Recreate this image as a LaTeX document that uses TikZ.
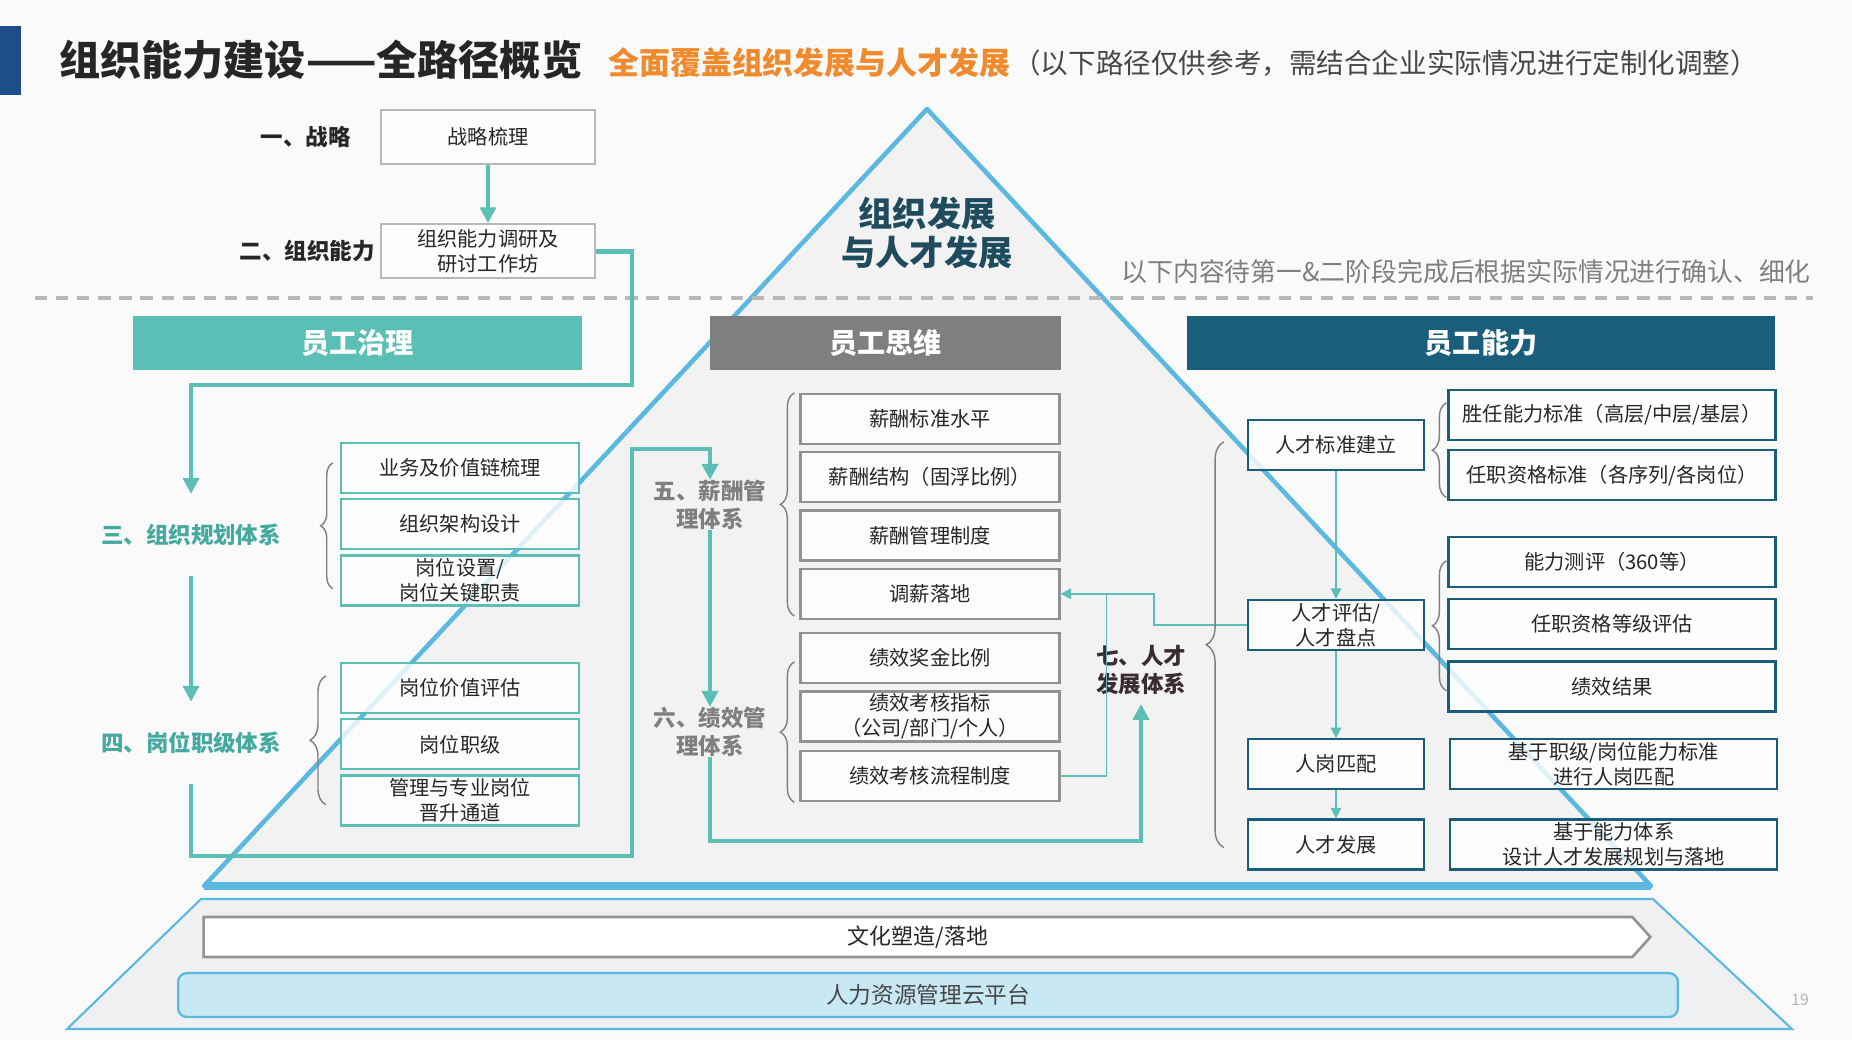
\documentclass[tikz,border=0pt]{standalone}
\usepackage{fontspec}
\setmainfont{Noto Sans CJK SC}
\usepackage{tikz}
\usetikzlibrary{arrows.meta, positioning, calc, decorations.pathreplacing, shapes.symbols}
\definecolor{orgteal}{HTML}{5BBFB5}
\definecolor{orgtealtext}{HTML}{45A99F}
\definecolor{orgnavy}{HTML}{1B5E7B}
\definecolor{orggray}{HTML}{7F7F7F}
\definecolor{orgsky}{HTML}{5BB8E0}
\definecolor{orgorange}{HTML}{F08A2C}
\definecolor{orgdark}{HTML}{262626}
\definecolor{orgdeep}{HTML}{1E4B5E}
\definecolor{orgbrown}{HTML}{3A2C30}
\definecolor{orgbg}{HTML}{FAFAFA}
\definecolor{orgtri}{HTML}{F2F2F2}
\definecolor{orgbase}{HTML}{EEF0F2}
\definecolor{orgcloud}{HTML}{C8E8F4}
\definecolor{orgbar}{HTML}{1D4E89}
\tikzset{
  hdr/.style={rectangle, minimum height=1.08cm, inner sep=0pt, font=\bfseries\fontsize{16}{18}\selectfont, text=white},
  govbox/.style={rectangle, draw=orgteal, line width=1.3pt, fill=white, fill opacity=0.8, text opacity=1,
    minimum width=4.76cm, minimum height=1cm, inner sep=1pt, font=\fontsize{11.5}{14}\selectfont, align=center, text=orgdark},
  mindbox/.style={govbox, draw=orggray!85, minimum width=5.18cm},
  talbox/.style={govbox, draw=orgnavy, minimum width=3.52cm},
  detbox/.style={govbox, draw=orgnavy, minimum width=6.54cm},
  topbox/.style={govbox, draw=gray!55, minimum width=4.28cm, minimum height=1.08cm},
  stage/.style={font=\bfseries\fontsize{12.8}{16}\selectfont, inner sep=0pt, align=center},
  flow/.style={-{Triangle[length=9pt, width=9pt]}, line width=2.6pt, draw=orgteal},
  thinflow/.style={-{Triangle[length=6pt, width=6pt]}, line width=0.9pt, draw=orgteal},
  thinline/.style={line width=0.9pt, draw=orgteal},
  brk/.style={decorate, decoration={brace, amplitude=#1}, draw=orggray, line width=0.8pt},
  brk/.default=7pt,
}
\begin{document}
\begin{tikzpicture}[x=0.02cm, y=-0.02cm]
    \fill[orgbg] (0,0) rectangle (1852,1039);
    \useasboundingbox (0,0) rectangle (1852,1039);
    \fill[orgbar] (0,26) rectangle (21,95);
    \node[anchor=west, inner sep=0pt, font=\bfseries\fontsize{23.4}{26}\selectfont, text=orgdark] (title) at (59,60) {组织能力建设——全路径概览};
    \node[anchor=west, inner sep=0pt, font=\bfseries\fontsize{17.6}{20}\selectfont, text=orgorange] (subtitle) at (608,63) {全面覆盖组织发展与人才发展};
    \node[anchor=west, inner sep=0pt, font=\fontsize{15.7}{18}\selectfont, text=orgdark!85] (note) at (1013,63) {（以下路径仅供参考，需结合企业实际情况进行定制化调整）};

    \filldraw[fill=orgtri, draw=orgsky, line width=2.6pt, line join=round] (927,109) -- (1651,886) -- (204,886) -- cycle;
    \draw[orgsky, line width=5pt] (204,886) -- (1651,886);
    \node[font=\bfseries\fontsize{19.5}{22}\selectfont, text=orgdeep, align=center] (core) at (927,233) {组织发展\\与人才发展};
    \draw[gray!55, line width=2pt, dash pattern=on 7pt off 5pt] (35,298) -- (1813,298);
    \node[anchor=east, inner sep=0pt, font=\fontsize{14.7}{16}\selectfont, text=orggray] (pending) at (1811,272) {以下内容待第一\&二阶段完成后根据实际情况进行确认、细化};

    \filldraw[fill=orgbase, draw=orgsky, line width=1.2pt] (201,899) -- (1653,899) -- (1792,1029) -- (67,1029) -- cycle;
    \node[signal, signal to=east, signal pointer angle=96, draw=gray!85, line width=1.5pt, fill=white, minimum width=28.94cm, minimum height=0.8cm, inner sep=0pt, font=\fontsize{12.5}{14}\selectfont, text=orgdark] (culture) at (918,937) {文化塑造/落地};
    \node[rectangle, rounded corners=5pt, draw=orgsky, line width=1.3pt, fill=orgcloud, minimum width=30cm, minimum height=0.88cm, font=\fontsize{12.9}{14}\selectfont, text=orgdark!85] (cloud) at (928,995) {人力资源管理云平台};
    \node[font=\fontsize{9}{10}\selectfont, text=gray!60] (pageno) at (1800,1000) {19};

    \node[topbox] (strat) at (488,137) {战略梳理};
    \node[topbox, below=1.16cm of strat] (orgcap) {组织能力调研及\\研讨工作坊};
    \node[stage, text=orgdark, left=0.58cm of strat] (s1) {一、战略};
    \node[stage, text=orgdark, left=0.1cm of orgcap] (s2) {二、组织能力};

    \node[hdr, fill=orgteal, minimum width=8.98cm] (govhdr) at (357.5,343) {员工治理};
    \node[hdr, fill=orggray, minimum width=7.02cm] (mindhdr) at (885.5,343) {员工思维};
    \node[hdr, fill=orgnavy, minimum width=11.76cm] (abilhdr) at (1481,343) {员工能力};

    \node[govbox] (bizchain) at (460,468) {业务及价值链梳理};
    \node[govbox, below=0.08cm of bizchain] (orgdesign) {组织架构设计};
    \node[govbox, below=0.08cm of orgdesign] (postset) {岗位设置/\\岗位关键职责};
    \node[govbox] (jobeval) at (460,688) {岗位价值评估};
    \node[govbox, below=0.08cm of jobeval] (jobgrade) {岗位职级};
    \node[govbox, below=0.08cm of jobgrade] (promo) {管理与专业岗位\\晋升通道};
    \node[stage, text=orgtealtext, inner ysep=0.6cm] (s3) at (191,535) {三、组织规划体系};
    \node[stage, text=orgtealtext, inner ysep=0.6cm] (s4) at (191,743) {四、岗位职级体系};

    \node[mindbox] (salstd) at (930,419) {薪酬标准水平};
    \node[mindbox, below=0.12cm of salstd] (salstruct) {薪酬结构（固浮比例）};
    \node[mindbox, below=0.12cm of salstruct] (salpolicy) {薪酬管理制度};
    \node[mindbox, below=0.12cm of salpolicy] (salaryadj) {调薪落地};
    \node[mindbox, below=0.24cm of salaryadj] (bonus) {绩效奖金比例};
    \node[mindbox, below=0.12cm of bonus] (perfkpi) {绩效考核指标\\（公司/部门/个人）};
    \node[mindbox, below=0.15cm of perfkpi] (perfproc) {绩效考核流程制度};
    \node[stage, text=orggray] (s5) at (710,505) {五、薪酬管\\理体系};
    \node[stage, text=orggray] (s6) at (710,732) {六、绩效管\\理体系};
    \node[stage, text=orgbrown, inner ysep=5pt] (s7) at (1141,670) {七、人才\\发展体系};

    \node[talbox] (talstd) at (1336,445) {人才标准建立};
    \node[talbox] (taleval) at (1336,625) {人才评估/\\人才盘点};
    \node[talbox, below=1.74cm of taleval] (match) {人岗匹配};
    \node[talbox, below=0.56cm of match] (taldev) {人才发展};
    \node[detbox] (competency) at (1612,415) {胜任能力标准（高层/中层/基层）};
    \node[detbox, below=0.16cm of competency] (qualstd) {任职资格标准（各序列/各岗位）};
    \node[detbox] (assess) at (1612,562) {能力测评（360等）};
    \node[detbox, below=0.2cm of assess] (qualgrade) {任职资格等级评估};
    \node[detbox, below=0.2cm of qualgrade] (perfres) {绩效结果};
    \node[detbox, right=0.48cm of match] (matchdet) {基于职级/岗位能力标准\\进行人岗匹配};
    \node[detbox, right=0.48cm of taldev] (devdet) {基于能力体系\\设计人才发展规划与落地};

    \draw[flow] (strat) -- (orgcap);
    \draw[flow] (orgcap.east) -| (632,385) -| (s3.north);
    \draw[flow] (s3.south) -- (s4.north);
    \draw[flow] (s4.south) |- (632,856) -- (632,449) -| (s5.north);
    \draw[flow] (s5.south) -- (s6.north);
    \draw[flow] (s6.south) -- (710,841) -| (s7.south);

    \draw[thinflow] (talstd) -- (taleval);
    \draw[thinflow] (taleval) -- (match);
    \draw[thinflow] (match) -- (taldev);
    \draw[thinflow] (taleval.west) -- ++(-93,0) |- (salaryadj.east);
    \draw[thinline] (perfproc.east) -| ($(salaryadj.east)+(46,0)$);

    \draw[brk=7pt] ($(postset.south west)+(-7,-18)$) -- ($(bizchain.north west)+(-7,21)$);
    \draw[brk=9pt] ($(promo.south west)+(-14,-22)$) -- ($(jobeval.north west)+(-14,14)$);
    \draw[brk=8pt] ($(salaryadj.south west)+(-5,-4)$) -- ($(salstd.north west)+(-5,0)$);
    \draw[brk=8pt] ($(perfproc.south west)+(-5,0)$) -- ($(bonus.north west)+(-5,30)$);
    \draw[brk=10pt] ($(taldev.south west)+(-23,-23)$) -- ($(talstd.north west)+(-23,23)$);
    \draw[brk=8pt] ($(qualstd.south west)+(-1,-4)$) -- ($(competency.north west)+(-1,14)$);
    \draw[brk=8pt] ($(perfres.south west)+(-1,-22)$) -- ($(assess.north west)+(-1,25)$);
  \end{tikzpicture}
\end{document}
